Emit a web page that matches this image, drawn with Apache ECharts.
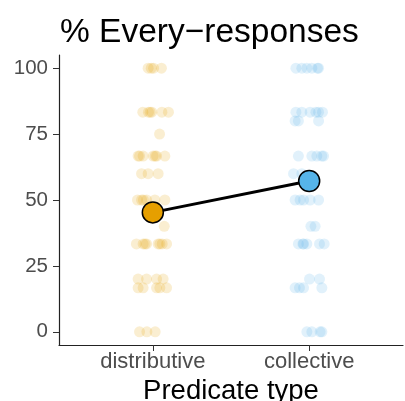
<!DOCTYPE html>
<html>
<head>
<meta charset="utf-8">
<script src="https://cdn.jsdelivr.net/npm/echarts@6/dist/echarts.min.js"></script>
<style>html,body{margin:0;padding:0;background:#fff}#c{width:405px;height:401px}</style>
</head>
<body>
<div id="c"></div>
<script>
const categories = ['distributive', 'collective'];
const yTicks = [0, 25, 50, 75, 100];
const meanValues = [45.3, 57.2];

const distributiveValues = [
  100, 100, 100, 100,
  83.33, 83.33, 83.33, 83.33, 83.33, 83.33,
  75,
  66.67, 66.67, 66.67, 66.67, 66.67, 66.67, 66.67,
  60, 60, 60,
  50, 50, 50, 50, 50, 50,
  40,
  33.33, 33.33, 33.33, 33.33, 33.33, 33.33, 33.33, 33.33,
  20, 20, 20, 20,
  16.67, 16.67, 16.67, 16.67, 16.67,
  0, 0, 0
];
const distributiveJitter = [
  -0.03, -0.01, 0.005, 0.055,
  -0.064, -0.028, -0.017, -0.006, 0.058, 0.1,
  0.043,
  -0.094, -0.085, -0.062, 0.002, 0.015, 0.024, 0.077,
  -0.072, -0.03, 0.034,
  -0.098, -0.072, -0.06, -0.04, 0.013, 0.077,
  0.073,
  -0.105, -0.062, -0.05, -0.04, 0.034, 0.045, 0.06, 0.088,
  -0.094, -0.04, 0.024, 0.066,
  -0.094, -0.062, 0.024, 0.045, 0.088,
  -0.085, -0.038, 0.015
];

const collectiveValues = [
  100, 100, 100, 100, 100, 100,
  83.33, 83.33, 83.33, 83.33, 83.33, 83.33,
  80, 80, 80,
  66.67, 66.67, 66.67, 66.67, 66.67,
  60, 60,
  50, 50, 50, 50, 50,
  40, 40,
  33.33, 33.33, 33.33, 33.33, 33.33, 33.33,
  20, 20,
  16.67, 16.67, 16.67, 16.67,
  0, 0, 0, 0
];
const collectiveJitter = [
  -0.085, -0.047, -0.015, 0.017, 0.053, 0.06,
  -0.085, -0.047, 0.006, 0.043, 0.06, 0.085,
  -0.09, -0.069, 0.06,
  -0.069, 0.017, 0.049, 0.081, 0.092,
  -0.1, -0.047,
  -0.09, -0.058, -0.036, 0.006, 0.06,
  0.011, 0.038,
  -0.069, -0.04, -0.036, -0.015, 0.066, 0.096,
  0.002, 0.066,
  -0.09, -0.062, -0.036, 0.081,
  -0.015, 0.017, 0.07, 0.081
];

const colors = ['#E69F00', '#56B4E9'];
const FONT = '"Liberation Sans", Arial, Helvetica, sans-serif';

function pts(catIdx, vals, jit) {
  return vals.map((v, i) => [catIdx + 1 + jit[i], v]);
}

const chart = echarts.init(document.getElementById('c'), null, {renderer: 'canvas'});
chart.setOption({
  animation: false,
  backgroundColor: '#fff',
  title: {
    text: '% Every\u2212responses',
    left: 55, top: 11,
    textStyle: {fontFamily: FONT, fontSize: 33.5, fontWeight: 'normal', color: '#000'}
  },
  grid: {left: 59, right: 2, top: 55, bottom: 56, outerBoundsMode: 'none', containLabel: false},
  xAxis: {
    type: 'value', min: 0.4, max: 2.6,
    name: 'Predicate type', nameLocation: 'middle', nameGap: 20,
    nameTextStyle: {fontFamily: FONT, fontSize: 27.5, color: '#000'},
    axisLine: {show: true, onZero: false, lineStyle: {color: '#222', width: 1.2}},
    axisTick: {show: true, length: 6, customValues: [1, 2], lineStyle: {color: '#333'}},
    axisLabel: {
      customValues: [1, 2], margin: 6,
      fontFamily: FONT, fontSize: 22, color: '#4D4D4D',
      formatter: v => categories[Math.round(v) - 1] || ''
    },
    splitLine: {show: false}
  },
  yAxis: {
    type: 'value', min: -5, max: 105,
    axisLine: {show: true, onZero: false, lineStyle: {color: '#222', width: 1.2}},
    axisTick: {show: true, length: 6, customValues: yTicks, lineStyle: {color: '#333'}},
    axisLabel: {customValues: yTicks, margin: 11, fontFamily: FONT, fontSize: 20.5, color: '#4D4D4D'},
    splitLine: {show: false}
  },
  series: [
    {
      type: 'scatter', symbolSize: 11, z: 1,
      data: pts(0, distributiveValues, distributiveJitter),
      itemStyle: {color: colors[0], opacity: 0.18}
    },
    {
      type: 'scatter', symbolSize: 11, z: 1,
      data: pts(1, collectiveValues, collectiveJitter),
      itemStyle: {color: colors[1], opacity: 0.18}
    },
    {
      type: 'line', z: 2, symbol: 'none',
      data: meanValues.map((m, i) => [i + 1, m]),
      lineStyle: {color: '#000', width: 3}
    },
    {
      type: 'scatter', z: 3, symbolSize: 21,
      data: meanValues.map((m, i) => ({value: [i + 1, m], itemStyle: {color: colors[i]}})),
      itemStyle: {borderColor: '#000', borderWidth: 1.5, opacity: 1}
    }
  ]
});
</script>
</body>
</html>
